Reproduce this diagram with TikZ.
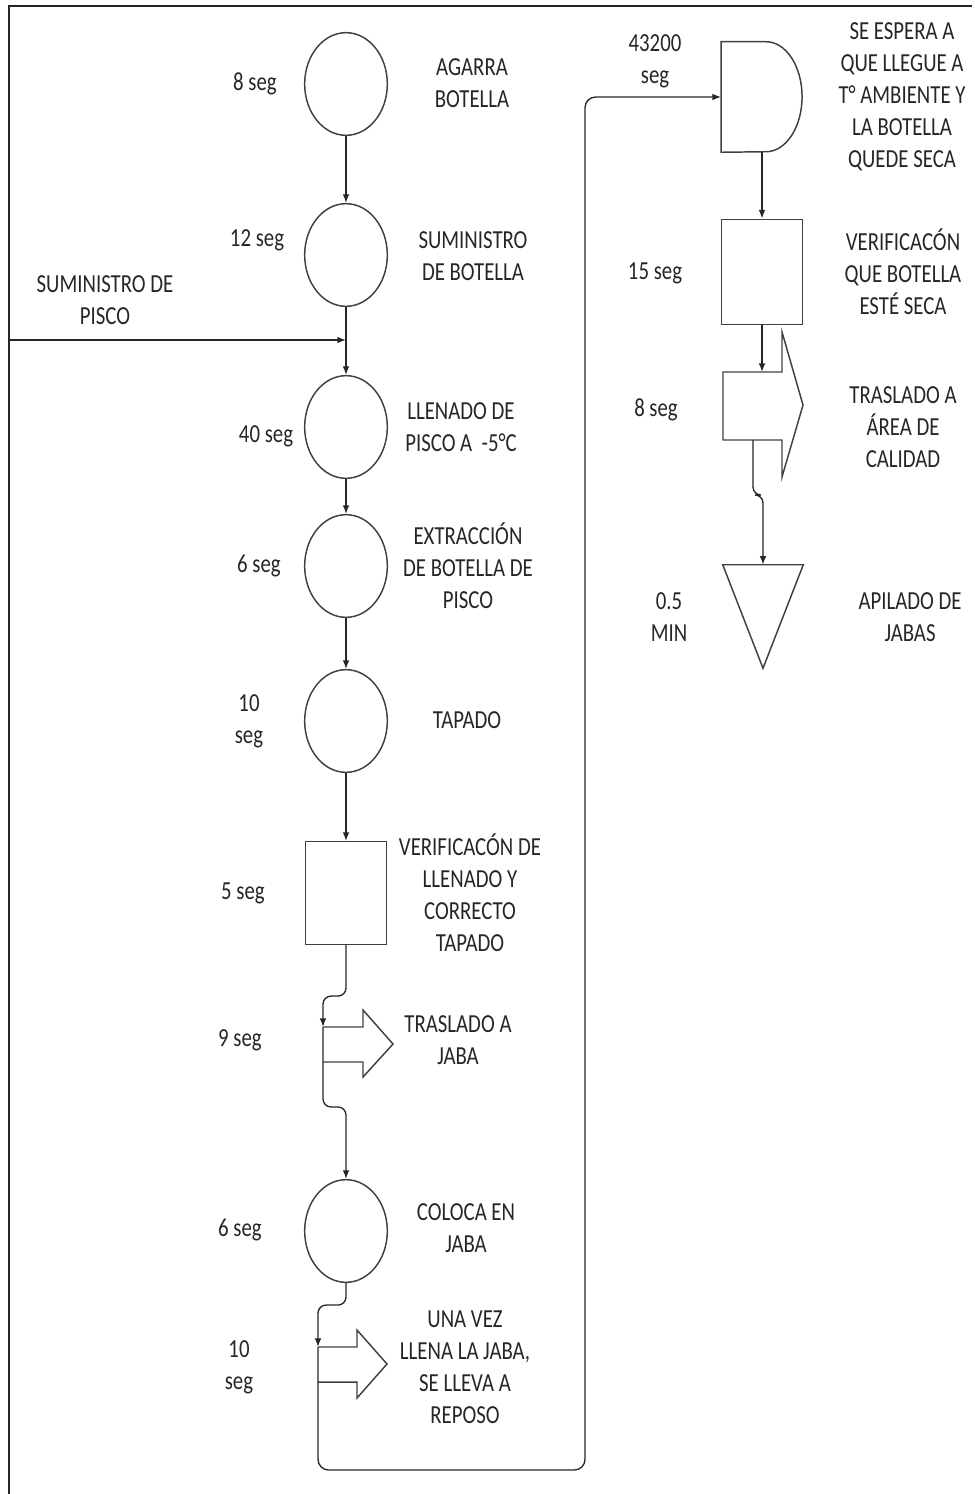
\documentclass[tikz,border=0pt]{standalone}
\usepackage{fontspec}
\setmainfont{Carlito}[FakeStretch=0.8]
\usetikzlibrary{shapes.geometric,arrows.meta}

\begin{document}
\begin{tikzpicture}[x=0.75pt, y=-0.75pt, >={Latex[length=6.5pt,width=5pt]},
    font=\fontsize{19.5pt}{24pt}\selectfont, text=black!85,
    lin/.style={draw=black!75, line width=1.1pt},
    oper/.style={lin, ellipse, minimum width=62pt, minimum height=77pt, inner sep=0pt},
    insp/.style={lin, rectangle, minimum width=61pt, minimum height=77pt, inner sep=0pt},
    caja/.style={draw=none, rectangle, inner sep=0pt},
    flecha/.style={->, draw=black!85, line width=1pt},
    txt/.style={align=center, inner sep=0pt}]
  \useasboundingbox (0,0) rectangle (974,1494);
  % === Marco ===
  \draw[line width=2pt, black!85] (9,1494) -- (9,6) -- (972,6);
  % === Columna izquierda ===
  \node[oper] (op1) at (346,84) {};
  \node[oper] (op2) at (346,255) {};
  \node[oper] (op3) at (346,427) {};
  \node[oper] (op4) at (346,566) {};
  \node[oper] (op5) at (346,721) {};
  \node[insp] (insp1) at (346,893) {};
  \node[oper] (op6) at (346,1231) {};
  % traslados (lado izquierdo abierto)
  \coordinate (tr1) at (323,1027);
  \draw[lin] (tr1) -- ++(40,0) -- ++(0,-17) -- ++(30,34) -- ++(-30,33) -- ++(0,-15) -- ++(-40,0);
  \coordinate (tr2) at (318,1347);
  \draw[lin] (tr2) -- ++(39,0) -- ++(0,-17) -- ++(30,34) -- ++(-30,34) -- ++(0,-16) -- ++(-39,0);
  % === Columna derecha ===
  \node[caja, minimum width=61pt, minimum height=82.5pt] (esp) at (762,97) {};
  \draw[lin] (esp.north west) -- ++(45,0)
    arc[start angle=-90, end angle=90, x radius=36, y radius=55] -- (esp.south west) -- cycle;
  \node[insp, minimum height=79pt] (insp2) at (762,272) {};
  \coordinate (tr3) at (723,372);
  \draw[lin] (tr3) -- ++(59,0) -- ++(0,-40) -- ++(21,73) -- ++(-21,72) -- ++(0,-37) -- ++(-59,0) -- cycle;
  \coordinate (tr3b) at (753,440);
  \node[caja, minimum width=60pt, minimum height=77.25pt] (alm) at (763,616.5) {};
  \draw[lin] (alm.north west) -- (alm.north east) -- (alm.south) -- cycle;
  % === Conectores ===
  \draw[flecha] (op1) -- (op2);
  \draw[flecha] (op2) -- (op3);
  \coordinate (sum) at (10,340);
  \draw[flecha] (sum) -- (sum -| op2);
  \draw[flecha] (op3) -- (op4);
  \draw[flecha] (op4) -- (op5);
  \draw[flecha] (op5) -- (insp1);
  \draw[flecha, rounded corners=6pt] (insp1.south) -- ++(0,51) -| (tr1);
  \draw[flecha, rounded corners=6pt] (tr1) -- ++(0,80) -| (op6.north);
  \draw[flecha, rounded corners=6pt] (op6.south) -- ++(0,22) -| (tr2);
  \coordinate (giro) at (585,1470);
  \draw[flecha, rounded corners=8pt] (tr2) |- (giro) |- (esp.west);
  \draw[flecha] (esp.south) -- (insp2.north);
  \draw[flecha] (insp2.south) -- (insp2.south |- tr3);
  \draw[flecha, rounded corners=6pt] (tr3b) -- ++(0,55) -| (alm.north);
  % === Textos ===
  \node[txt] (t8) at (255,84) {8 seg};
  \node[txt] (agarra) at (472,83) {AGARRA\\BOTELLA};
  \node[txt] (t12) at (257,240) {12 seg};
  \node[txt] (sumbot) at (473,256) {SUMINISTRO\\DE BOTELLA};
  \node[txt] (sumpis) at (105,300) {SUMINISTRO DE\\PISCO};
  \node[txt] (t40) at (266,436) {40 seg};
  \node[txt] (llenado) at (461,427) {LLENADO DE\\PISCO A\ \ -5°C};
  \node[txt] (t6a) at (259,566) {6 seg};
  \node[txt] (extr) at (468,566) {EXTRACCIÓN\\DE BOTELLA DE\\PISCO};
  \node[txt] (t10a) at (249,721) {10\\seg};
  \node[txt] (tapado) at (467,720) {TAPADO};
  \node[txt] (t5) at (243,893) {5 seg};
  \node[txt] (verif) at (470,893) {VERIFICACÓN DE\\LLENADO Y\\CORRECTO\\TAPADO};
  \node[txt] (t9) at (240,1040) {9 seg};
  \node[txt] (tras1) at (458,1040) {TRASLADO A\\JABA};
  \node[txt] (t6b) at (240,1230) {6 seg};
  \node[txt] (coloca) at (466,1228) {COLOCA EN\\JABA};
  \node[txt] (t10b) at (239,1367) {10\\seg};
  \node[txt] (unavez) at (465,1367) {UNA VEZ\\LLENA LA JABA,\\SE LLEVA A\\REPOSO};
  \node[txt] (t43200) at (655,61) {43200\\seg};
  \node[txt] (seespera) at (902,97) {SE ESPERA A\\QUE LLEGUE A\\T° AMBIENTE Y\\LA BOTELLA\\QUEDE SECA};
  \node[txt] (t15) at (655,273) {15 seg};
  \node[txt] (verif2) at (903,272) {VERIFICACÓN\\QUE BOTELLA\\ESTÉ SECA};
  \node[txt] (t8b) at (656,410) {8 seg};
  \node[txt] (tras2) at (903,427) {TRASLADO A\\ÁREA DE\\CALIDAD};
  \node[txt] (t05) at (669,617) {0.5\\MIN};
  \node[txt] (apilado) at (910,617) {APILADO DE\\JABAS};
\end{tikzpicture}
\end{document}
